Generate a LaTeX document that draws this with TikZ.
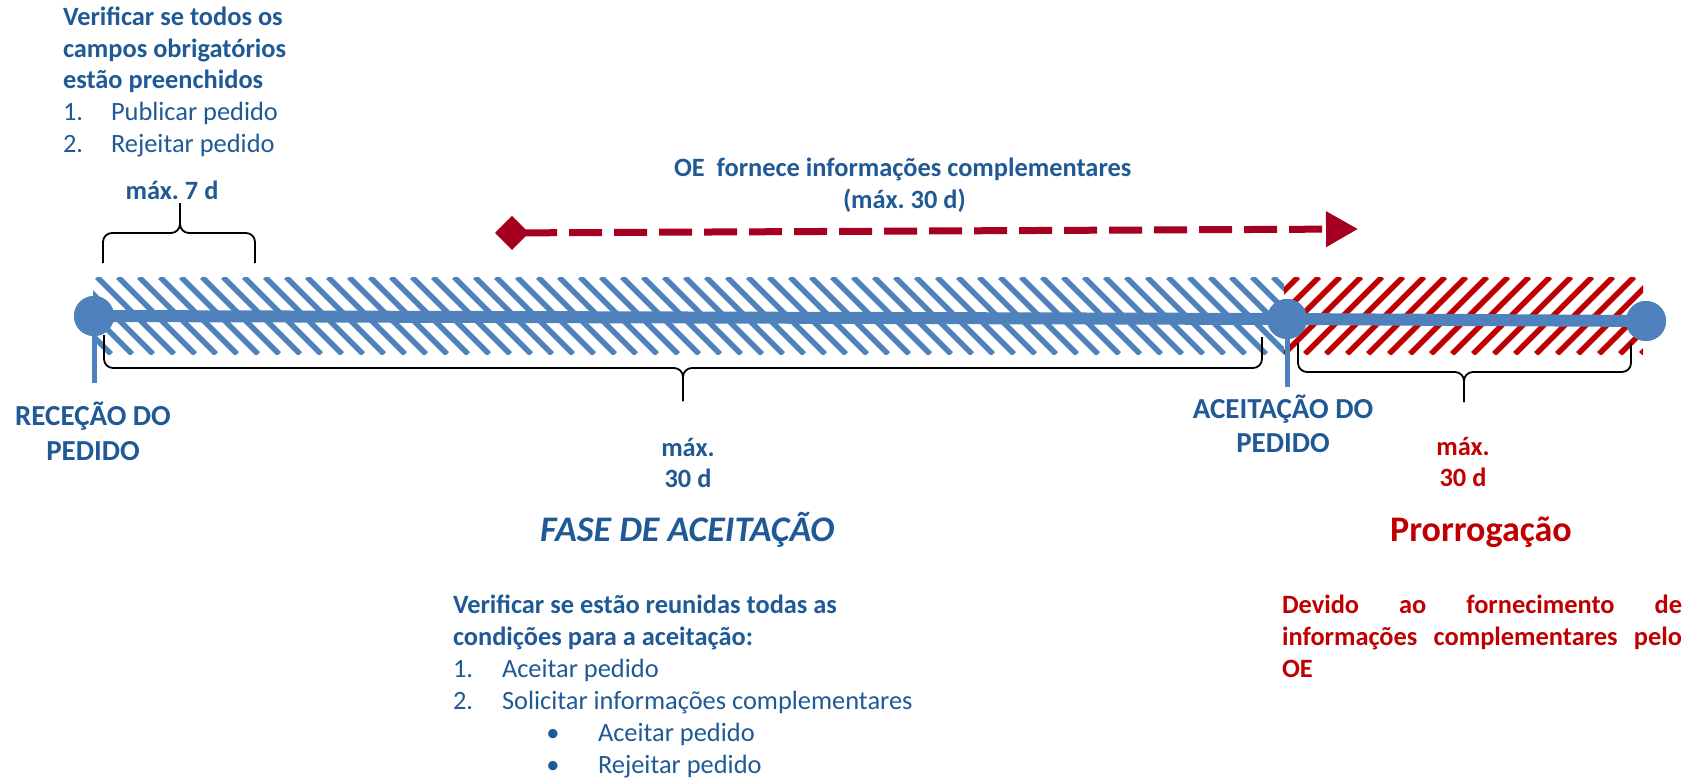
\documentclass[tikz,border=0pt]{standalone}
\usepackage{fontspec}
\setmainfont{Carlito}
\usetikzlibrary{arrows.meta}
\definecolor{txtblue}{RGB}{31,89,150}
\definecolor{lnblue}{RGB}{79,129,189}
\definecolor{txtred}{RGB}{192,0,0}
\definecolor{arrred}{RGB}{165,0,33}
\newcommand{\fsN}{\fontsize{26.4}{32}\selectfont}
\newcommand{\fsL}{\fontsize{29}{35}\selectfont}
\newcommand{\fsT}{\fontsize{36}{44}\selectfont}
\frenchspacing
\begin{document}
\begin{tikzpicture}[x=1pt,y=-1pt,
  txt/.style={inner sep=0,outer sep=0,text=txtblue,font=\fsN},
  txtb/.style={txt,font=\fsN\bfseries},
  lab/.style={inner sep=0,outer sep=0,text=txtblue,font=\fsL\bfseries},
  rtxt/.style={inner sep=0,outer sep=0,text=txtred,font=\fsN\bfseries},
  brc/.style={draw=black,line width=1.8,rounded corners=9},
  dot/.style={circle,fill=lnblue,minimum size=40,inner sep=0,outer sep=0},
  hatchb/.style={draw=lnblue,line width=5.5},
  hatchr/.style={draw=txtred,line width=5.5}]
\useasboundingbox (0,0) rectangle (1697,782);

% hatched bands
\begin{scope}
  \clip (93,277) rectangle (1284,354);
  \foreach \x in {-8,13,...,1300} \draw[hatchb] (\x,277) -- ++(77,77);
\end{scope}
\begin{scope}
  \clip (1284,277) rectangle (1643,354);
  \foreach \x in {1200,1221,...,1660} \draw[hatchr] (\x,354) -- ++(77,-77);
\end{scope}

% braces
\draw[brc] (103,263) -- (103,233) -- (180,233) -- (180,203);
\draw[brc] (255,263) -- (255,233) -- (180,233) -- (180,203);
\draw[brc] (104,335) -- (104,368) -- (683,368) -- (683,401);
\draw[brc] (1262,337) -- (1262,368) -- (683,368) -- (683,401);
\draw[brc] (1298,343) -- (1298,372) -- (1464,372) -- (1464,402);
\draw[brc] (1631,343) -- (1631,372) -- (1464,372) -- (1464,402);

% timeline
\node[dot] (c1) at (94,316) {};
\node[dot] (c2) at (1287,319) {};
\node[dot] (c3) at (1646,321) {};
\coordinate (t1) at (94,383);
\coordinate (t2) at (1287,387);
\draw[lnblue,line width=12] (c1.center) -- (c2.center) -- (c3.center);
\draw[lnblue,line width=5] (c1.center) -- (t1);
\draw[lnblue,line width=5] (c2.center) -- (t2);
\node[dot] at (c1.center) {};
\node[dot] at (c2.center) {};
\node[dot] at (c3.center) {};

% dashed arrow
\coordinate (a1) at (495,233);
\coordinate (a2) at (1358,229);
\draw[arrred,line width=7,dash pattern=on 33pt off 12pt,
  {Diamond[length=34pt,width=34pt]}-{Triangle[length=32pt,width=34pt]}] (a1) -- (a2);

% top-left text
\node[txtb,anchor=base west] (v1) at (63,25) {Verificar se todos os};
\node[txtb,anchor=base west] (v2) at (63,57) {campos obrigatórios};
\node[txtb,anchor=base west] (v3) at (63,88) {estão preenchidos};
\node[txt,anchor=base west] (n1) at (63,120) {1.};
\node[txt,anchor=base west] (p1) at (111,120) {Publicar pedido};
\node[txt,anchor=base west] (n2) at (63,152) {2.};
\node[txt,anchor=base west] (p2) at (111,152) {Rejeitar pedido};
\node[txtb,anchor=base] (m7) at (172,199) {máx. 7 d};

% arrow label
\node[txtb,anchor=base west] (oe1) at (674,176) {OE\ \ fornece informações complementares};
\node[txtb,anchor=base west] (oe2) at (843,208) {(máx. 30 d)};

% milestone labels
\node[lab,anchor=base] (r1) at (93,425) {RECEÇÃO DO};
\node[lab,anchor=base] (r2) at (93,460) {PEDIDO};
\node[lab,anchor=base] (ac1) at (1283,418) {ACEITAÇÃO DO};
\node[lab,anchor=base] (ac2) at (1283,452) {PEDIDO};

% durations
\node[txtb,anchor=base] (mb1) at (688,456) {máx.};
\node[txtb,anchor=base] (mb2) at (688,487) {30 d};
\node[rtxt,anchor=base] (mr1) at (1463,455) {máx.};
\node[rtxt,anchor=base] (mr2) at (1463,486) {30 d};

% phase titles
\node[inner sep=0,text=txtblue,font=\fsT\bfseries\itshape,anchor=base west] (fase) at (540,541) {FASE DE ACEITAÇÃO};
\node[inner sep=0,text=txtred,font=\fsT\bfseries,anchor=base west] (prr) at (1390,541) {Prorrogação};

% bottom list
\node[txtb,anchor=base west] (b1) at (453,613) {Verificar se estão reunidas todas as};
\node[txtb,anchor=base west] (b2) at (453,645) {condições para a aceitação:};
\node[txt,anchor=base west] (bn1) at (453,677) {1.};
\node[txt,anchor=base west] (bt1) at (502,677) {Aceitar pedido};
\node[txt,anchor=base west] (bn2) at (453,709) {2.};
\node[txt,anchor=base west] (bt2) at (502,709) {Solicitar informações complementares};
\node[txt,anchor=base] (bu1) at (553,741) {•};
\node[txt,anchor=base west] (bs1) at (598,741) {Aceitar pedido};
\node[txt,anchor=base] (bu2) at (553,773) {•};
\node[txt,anchor=base west] (bs2) at (598,773) {Rejeitar pedido};

% red paragraph
\node[rtxt,anchor=base west] (d1) at (1282,613) {\makebox[400pt][s]{Devido ao fornecimento de}};
\node[rtxt,anchor=base west] (d2) at (1282,645) {\makebox[400pt][s]{informações complementares pelo}};
\node[rtxt,anchor=base west] (d3) at (1282,677) {OE};
\end{tikzpicture}
\end{document}
